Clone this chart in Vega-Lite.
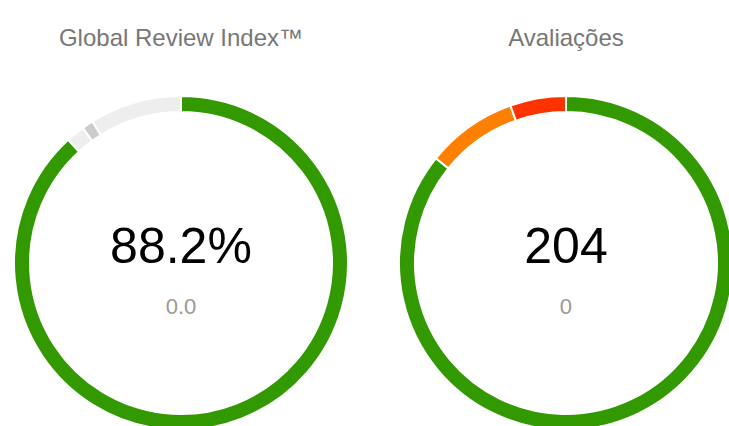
{
  "$schema": "https://vega.github.io/schema/vega-lite/v6.json",
  "width": 729,
  "height": 426,
  "autosize": {"type": "fit", "contains": "padding"},
  "padding": 0,
  "background": "#ffffff",
  "config": {"view": {"stroke": null}},
  "datasets": {
    "segments": [
      {"chart": "Global Review Index™", "seg": "Índice", "i": 1, "value": 88.2},
      {"chart": "Global Review Index™", "seg": "Restante", "i": 2, "value": 1.8},
      {"chart": "Global Review Index™", "seg": "Marcador", "i": 3, "value": 1.1},
      {"chart": "Global Review Index™", "seg": "Restante", "i": 4, "value": 8.9},
      {"chart": "Avaliações", "seg": "Positivas", "i": 1, "value": 175},
      {"chart": "Avaliações", "seg": "Neutras", "i": 2, "value": 18},
      {"chart": "Avaliações", "seg": "Negativas", "i": 3, "value": 11}
    ],
    "labels": [
      {"chart": "Global Review Index™", "main": "88.2%", "sub": "0.0"},
      {"chart": "Avaliações", "main": "204", "sub": "0"}
    ]
  },
  "encoding": {
    "x": {
      "field": "chart",
      "type": "nominal",
      "scale": {"type": "point", "domain": ["Global Review Index™", "Avaliações"], "padding": 0.446753, "align": 0.52616},
      "axis": null
    },
    "y": {
      "datum": 0,
      "type": "quantitative",
      "scale": {"domain": [-163, 263], "nice": false, "zero": false},
      "axis": null
    }
  },
  "layer": [
    {
      "data": {"name": "segments"},
      "transform": [{"filter": "datum.chart === 'Global Review Index™'"}],
      "mark": {"type": "arc", "outerRadius": 167, "innerRadius": 151, "stroke": "#ffffff", "strokeWidth": 2, "clip": true},
      "encoding": {
        "theta": {"field": "value", "type": "quantitative", "stack": "normalize"},
        "order": {"field": "i", "type": "quantitative"},
        "color": {
          "field": "seg", "type": "nominal", "legend": null,
          "scale": {"domain": ["Índice", "Restante", "Marcador", "Positivas", "Neutras", "Negativas"],
                    "range": ["#339900", "#eeeeee", "#cccccc", "#339900", "#ff8000", "#ff3300"]}
        }
      }
    },
    {
      "data": {"name": "segments"},
      "transform": [{"filter": "datum.chart === 'Avaliações'"}],
      "mark": {"type": "arc", "outerRadius": 167, "innerRadius": 151, "stroke": "#ffffff", "strokeWidth": 2, "clip": true},
      "encoding": {
        "theta": {"field": "value", "type": "quantitative", "stack": "normalize"},
        "order": {"field": "i", "type": "quantitative"},
        "color": {"field": "seg", "type": "nominal", "legend": null}
      }
    },
    {
      "data": {"name": "labels"},
      "mark": {"type": "text", "font": "Liberation Sans", "fontSize": 24, "color": "#777777", "align": "center", "baseline": "alphabetic", "dy": -217},
      "encoding": {"text": {"field": "chart"}}
    },
    {
      "data": {"name": "labels"},
      "mark": {"type": "text", "font": "Liberation Sans", "fontSize": 50, "color": "#000000", "align": "center", "baseline": "alphabetic", "dy": 0},
      "encoding": {"text": {"field": "main"}}
    },
    {
      "data": {"name": "labels"},
      "mark": {"type": "text", "font": "Liberation Sans", "fontSize": 22, "color": "#999999", "align": "center", "baseline": "alphabetic", "dy": 51},
      "encoding": {"text": {"field": "sub"}}
    }
  ],
  "resolve": {"scale": {"theta": "independent"}}
}
